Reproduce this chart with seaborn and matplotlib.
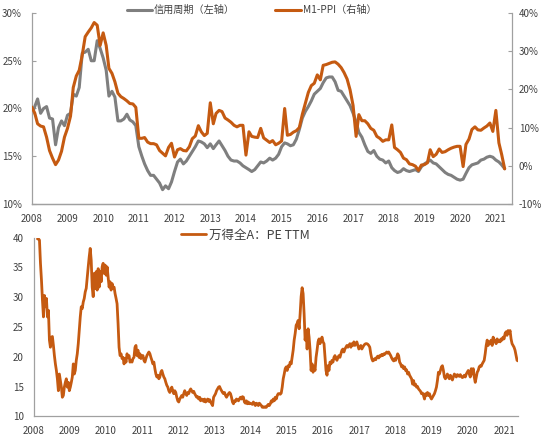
import pandas as pd
import numpy as np
import matplotlib
matplotlib.use('Agg')
import matplotlib.pyplot as plt
import matplotlib.dates as mdates
import matplotlib.ticker as mticker
import seaborn as sns

# 月度数据：2008-01 ~ 2021-04
credit_cycle = [
    19.4, 20.2, 21.0, 19.5, 20.0, 20.2, 19.0, 18.9, 16.2, 18.0, 18.7, 18.2,
    19.3, 19.5, 21.5, 21.3, 22.2, 25.8, 25.9, 26.2, 25.0, 25.0, 27.1, 26.3,
    25.3, 24.0, 21.3, 21.8, 21.2, 18.7, 18.7, 18.9, 19.4, 18.8, 18.6, 18.2,
    16.0, 15.0, 14.2, 13.5, 13.0, 13.0, 12.6, 12.2, 11.5, 11.9, 11.6, 12.3,
    13.4, 14.4, 14.7, 14.2, 14.5, 15.0, 15.5, 16.0, 16.6, 16.5, 16.3, 15.9,
    16.3, 15.8, 16.2, 16.6, 16.1, 15.6, 15.0, 14.6, 14.5, 14.5, 14.3, 14.0,
    13.8, 13.6, 13.4, 13.6, 14.0, 14.4, 14.3, 14.5, 14.8, 14.6, 14.8, 15.2,
    16.0, 16.4, 16.3, 16.1, 16.2, 16.8, 17.8, 19.0, 19.7, 20.2, 20.8, 21.5,
    21.8, 22.1, 22.7, 23.2, 23.3, 23.3, 22.8, 21.9, 21.8, 21.3, 20.8, 20.3,
    19.5, 18.6, 17.5, 17.0, 16.2, 15.5, 15.3, 15.6, 15.0, 14.7, 14.6, 14.3,
    14.5, 13.8, 13.5, 13.3, 13.4, 13.7, 13.5, 13.4, 13.5, 13.6, 13.4, 13.9,
    14.2, 14.4, 14.6, 14.3, 14.2, 13.9, 13.6, 13.3, 13.1, 13.0, 12.8, 12.6,
    12.5, 12.6, 13.2, 13.8, 14.1, 14.2, 14.3, 14.6, 14.7, 14.9, 15.0, 14.9,
    14.6, 14.4, 14.1, 13.7,
]
m1_ppi = [
    15.4, 13.8, 11.0, 10.4, 10.2, 7.5, 4.0, 2.0, 0.3, 1.5, 3.8, 7.5,
    9.8, 13.0, 20.5, 23.5, 25.0, 29.0, 33.8, 35.0, 36.1, 37.5, 36.8, 31.5,
    34.8, 31.5, 25.5, 24.2, 22.0, 19.0, 18.1, 17.6, 17.0, 16.3, 16.2, 15.3,
    7.2, 7.2, 7.4, 6.2, 5.8, 5.8, 5.5, 4.0, 3.3, 2.6, 4.8, 5.9,
    2.3, 4.2, 4.5, 4.0, 3.9, 5.0, 7.1, 7.8, 10.5, 8.9, 7.9, 8.5,
    16.5, 11.0, 13.7, 14.5, 14.2, 12.5, 12.0, 11.4, 10.6, 10.2, 10.6, 10.6,
    2.8, 8.9, 7.7, 7.5, 7.4, 9.8, 7.3, 6.7, 6.1, 6.6, 5.5, 5.9,
    6.5, 15.0, 8.0, 8.2, 8.8, 9.2, 10.0, 13.5, 16.4, 19.2, 21.0, 21.6,
    23.8, 22.5, 26.3, 26.5, 26.8, 27.1, 27.2, 26.6, 25.7, 24.4, 22.7, 19.9,
    15.8, 7.7, 13.4, 11.8, 11.8, 11.0, 9.8, 9.3, 7.7, 7.2, 6.4, 6.8,
    6.8, 10.7, 4.8, 4.2, 3.5, 2.0, 1.6, 0.5, 0.3, -0.1, -1.2, 0.2,
    0.3, 0.8, 4.2, 2.4, 3.0, 4.4, 3.5, 3.7, 4.2, 4.6, 4.9, 5.1,
    5.1, -0.2, 5.6, 7.0, 9.5, 10.2, 9.4, 9.3, 9.9, 10.4, 11.2, 9.0,
    14.5, 6.0, 3.0, -0.8,
]
month_dates = pd.date_range('2008-01-01', periods=len(credit_cycle), freq='MS')

# 万得全A PE TTM，约每10天一个点（2008-02 ~ 2021-05）
pe_ttm = [
    39.8, 39.8, 39.6, 35.7, 32.9, 29.5, 26.7, 30.3, 28.4, 29.8, 26.7, 27.8,
    22.8, 21.6, 23.3, 23.4, 21.9, 20.2, 18.8, 17.7, 16.3, 14.3, 17.1, 16.0,
    14.9, 13.2, 13.5, 14.9, 15.7, 16.3, 14.9, 15.7, 14.3, 14.9, 15.7, 16.6,
    18.8, 17.1, 17.7, 19.4, 20.5, 22.2, 24.4, 26.7, 28.4, 28.1, 29.2, 29.8,
    30.9, 31.5, 33.4, 35.1, 36.8, 38.2, 36.2, 31.7, 30.1, 34.0, 31.5, 34.3,
    31.2, 34.8, 31.7, 34.3, 32.6, 35.1, 35.7, 34.0, 35.4, 33.7, 35.1, 33.4,
    31.7, 32.6, 31.2, 32.3, 31.5, 31.7, 30.6, 29.8, 28.9, 25.6, 21.6, 20.2,
    20.5, 19.7, 19.9, 18.8, 19.7, 19.1, 20.5, 19.9, 20.2, 19.1, 19.4, 19.1,
    19.7, 19.9, 21.6, 21.9, 20.2, 21.1, 19.9, 20.5, 19.7, 20.2, 20.2, 19.4,
    19.1, 19.7, 20.2, 20.5, 20.8, 20.5, 19.9, 19.4, 18.8, 19.1, 18.0, 17.1,
    16.6, 16.9, 16.3, 16.6, 17.4, 17.7, 17.1, 16.6, 16.3, 15.7, 15.2, 14.9,
    14.3, 14.0, 14.4, 14.9, 14.3, 13.8, 14.3, 14.0, 13.2, 12.6, 12.4, 12.9,
    13.2, 13.5, 13.2, 13.8, 14.3, 13.8, 13.5, 14.0, 13.8, 14.3, 14.6, 14.3,
    14.0, 14.2, 13.8, 13.5, 13.2, 13.3, 12.9, 13.2, 12.6, 12.9, 12.8, 12.5,
    12.9, 12.4, 12.6, 12.9, 12.5, 12.8, 12.4, 12.1, 11.8, 13.2, 13.5, 13.8,
    14.3, 14.6, 14.9, 15.0, 14.6, 14.3, 14.0, 13.8, 14.0, 13.5, 13.2, 13.5,
    13.8, 14.0, 13.8, 13.2, 12.4, 12.1, 12.6, 12.5, 12.9, 12.8, 12.6, 12.9,
    13.2, 12.9, 13.3, 13.2, 12.4, 12.2, 12.6, 12.1, 12.4, 12.1, 12.2, 12.1,
    12.0, 12.4, 12.1, 11.8, 12.2, 12.1, 11.8, 12.2, 12.0, 11.8, 11.5, 11.6,
    11.5, 11.6, 11.5, 11.8, 12.0, 11.8, 12.1, 12.6, 12.4, 12.9, 12.6, 13.2,
    12.9, 13.5, 13.8, 13.8,
    13.7, 13.9, 14.9, 16.3, 17.1, 18.0, 18.3, 17.7, 18.5, 18.3, 19.1, 18.8,
    19.9, 21.1, 22.8, 23.9, 25.3, 25.6, 26.1, 24.7, 27.2, 30.1, 31.6, 30.6,
    27.2, 22.8, 24.4, 21.3, 24.7, 23.3, 21.1, 17.7, 18.8, 17.4, 18.3, 17.7,
    19.9, 21.1, 22.5, 23.0, 22.2, 22.8, 23.3, 22.5, 22.2, 19.9, 17.7, 16.9,
    18.5, 17.7, 19.1, 18.8, 19.4, 19.1, 19.9, 20.2, 19.7, 19.4, 19.9, 20.2,
    19.9, 20.5, 21.1, 21.3, 20.8, 21.3, 21.6, 21.9, 21.6, 21.9, 22.2, 21.6,
    22.2, 21.9, 22.5, 21.9, 22.2, 22.5, 21.9, 21.3, 21.6, 21.9, 21.3, 21.6,
    21.9, 22.1, 22.2, 22.2, 22.1, 21.9, 21.6, 20.5, 19.7, 19.3, 19.4, 19.7,
    19.5, 19.9, 20.1, 19.8, 20.2, 20.1, 20.4, 20.2, 20.5, 20.4, 20.6, 20.8,
    20.6, 20.8, 20.5, 20.2, 19.8, 19.5, 19.3, 19.7, 19.4, 19.9, 20.5, 20.2,
    19.1, 18.8, 18.3, 18.5, 18.0, 18.3, 17.7, 17.8, 17.1, 17.4, 16.9, 16.6,
    16.3, 15.4, 16.0, 15.2, 15.4, 14.9, 15.0, 14.6, 14.4, 14.2, 13.8, 13.9,
    13.5, 12.9, 13.8, 13.5, 14.0, 13.5, 13.8, 13.2, 12.9, 13.2, 13.5, 13.8,
    14.3, 14.9, 16.0, 17.4, 17.1, 17.7, 18.3, 18.5, 17.7, 16.6, 16.3, 16.6,
    17.1, 16.6, 16.3, 16.9, 16.6, 16.1, 16.6, 17.1, 16.9, 16.6, 17.0, 16.9,
    16.7, 17.0, 16.7, 16.5, 16.6, 16.9, 16.6, 17.1, 17.4, 17.7, 17.1, 16.6,
    18.0, 17.1, 18.0, 16.6, 15.7, 16.6, 17.4, 17.7, 18.3, 18.5, 18.4, 18.8,
    19.1, 19.4, 20.5, 21.9, 22.8, 21.9, 22.5, 22.2, 22.8, 21.9, 23.3, 22.5,
    22.8, 22.2, 23.0, 22.5, 22.8, 22.5, 23.0, 22.8, 23.3, 23.0, 23.9, 24.2,
    23.6, 24.4, 23.9, 24.4, 23.0, 22.2, 21.9, 21.6, 21.1, 20.2, 19.4, 19.3,
]
pe_dates = pd.date_range('2008-02-10', '2021-05-22', periods=len(pe_ttm))

orange = '#C55A11'
grey = '#7F7F7F'
text_c = '#404040'
spine_c = '#A0A0A0'

sns.set_theme(style='white')
plt.rcParams['font.family'] = ['Noto Sans CJK SC', 'DejaVu Sans']
plt.rcParams['axes.unicode_minus'] = False

fig = plt.figure(figsize=(5.45, 4.36), dpi=100)
ax1 = fig.add_axes([0.0582, 0.5321, 0.8807, 0.4381])
ax2 = ax1.twinx()
ax3 = fig.add_axes([0.0615, 0.0452, 0.8890, 0.4096])

# 上图：信用周期 vs M1-PPI
sns.lineplot(x=month_dates, y=credit_cycle, ax=ax1, color=grey, linewidth=2.2,
             label='信用周期（左轴）', legend=False)
sns.lineplot(x=month_dates, y=m1_ppi, ax=ax2, color=orange, linewidth=2.2,
             label='M1-PPI（右轴）', legend=False)
ax1.set_ylim(10, 30)
ax2.set_ylim(-10, 40)
ax1.set_yticks([10, 15, 20, 25, 30])
ax2.set_yticks([-10, 0, 10, 20, 30, 40])
ax1.yaxis.set_major_formatter(mticker.PercentFormatter(decimals=0))
ax2.yaxis.set_major_formatter(mticker.PercentFormatter(decimals=0))
ax1.set_xlim(pd.Timestamp('2008-01-01'), pd.Timestamp('2021-06-12'))

# 下图：万得全A PE TTM
sns.lineplot(x=pe_dates, y=pe_ttm, ax=ax3, color=orange, linewidth=2.0,
             label='万得全A：PE TTM', legend=False)
ax3.set_ylim(10, 40)
ax3.set_yticks([10, 15, 20, 25, 30, 35, 40])
ax3.set_xlim(pd.Timestamp('2008-01-01'), pd.Timestamp('2021-05-22'))

for ax in (ax1, ax2, ax3):
    ax.set_xlabel('')
    ax.set_ylabel('')
    ax.xaxis.set_major_locator(mdates.YearLocator())
    ax.xaxis.set_major_formatter(mdates.DateFormatter('%Y'))
    ax.tick_params(direction='in', length=3, width=0.8, color=spine_c,
                   labelsize=7, labelcolor=text_c, pad=7)
    for s in ax.spines.values():
        s.set_color(spine_c)
        s.set_linewidth(0.9)
    ax.spines['top'].set_visible(False)

ax1.spines['right'].set_visible(False)
ax3.spines['right'].set_visible(False)
ax2.spines['left'].set_visible(False)
ax2.tick_params(axis='y', pad=5)

h1 = ax1.get_lines() + ax2.get_lines()
fig.legend(h1, [l.get_label() for l in h1], loc='center', ncol=2,
           bbox_to_anchor=(0.4615, 0.977), frameon=False, fontsize=7.3,
           handlelength=2.5, handletextpad=0.2, columnspacing=4.0,
           labelcolor=text_c)
fig.legend(ax3.get_lines(), [ax3.get_lines()[0].get_label()], loc='center',
           bbox_to_anchor=(0.450, 0.461), frameon=False, fontsize=9,
           handlelength=2.0, handletextpad=0.2, labelcolor=text_c)

plt.savefig('out.png', dpi=100)
